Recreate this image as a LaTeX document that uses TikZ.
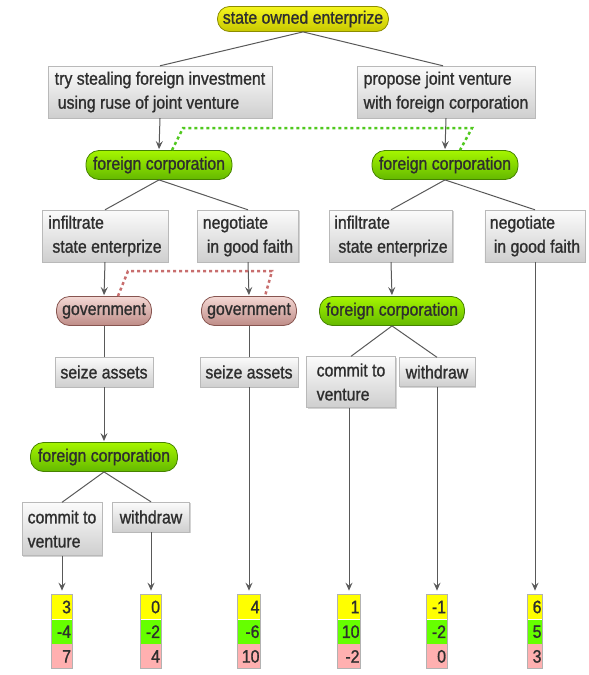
\documentclass[tikz,border=0pt]{standalone}
\usepackage{fontspec}
\setmainfont{Liberation Sans}[FakeStretch=0.88,FakeBold=1.1]
\usepackage{tikz}
\usetikzlibrary{arrows.meta,positioning,shadows,calc}

\definecolor{ytop}{RGB}{245,245,30}
\definecolor{ybot}{RGB}{200,200,0}
\definecolor{yline}{RGB}{140,140,0}
\definecolor{gtop}{RGB}{165,245,0}
\definecolor{gbot}{RGB}{100,185,0}
\definecolor{gline}{RGB}{70,130,0}
\definecolor{rtop}{RGB}{244,216,212}
\definecolor{rbot}{RGB}{190,140,135}
\definecolor{rline}{RGB}{135,85,80}
\definecolor{payyellow}{RGB}{255,255,0}
\definecolor{paygreen}{RGB}{102,255,0}
\definecolor{paypink}{RGB}{255,176,176}
\definecolor{dotgreen}{RGB}{80,200,30}
\definecolor{dotred}{RGB}{200,110,110}

\tikzset{
  txt/.style={font=\fontsize{18}{24}\selectfont, text=black!82},
  box/.style={txt, draw=gray!55, top color=gray!3, bottom color=gray!38,
    inner xsep=5pt, inner ysep=2pt, align=left,
    drop shadow={shadow xshift=1pt,shadow yshift=-1pt,opacity=.35}},
  pill/.style={txt, draw, line width=0.8pt, rounded corners=13pt, minimum height=29pt, inner sep=2pt},
  ypill/.style={pill, draw=yline, top color=ytop, bottom color=ybot},
  gpill/.style={pill, draw=gline, top color=gtop, bottom color=gbot},
  rpill/.style={pill, draw=rline, top color=rtop, bottom color=rbot},
  link/.style={draw=black!65, line width=1pt},
  arr/.style={link, -{Stealth[length=8pt,width=7pt,inset=3pt]}, shorten >=1pt},
  infogreen/.style={draw=dotgreen, line width=2.5pt, dash pattern=on 3pt off 3pt},
  infored/.style={draw=dotred, line width=2.5pt, dash pattern=on 3pt off 3pt},
  cell/.style={txt, inner xsep=1pt, inner ysep=0pt, minimum height=24.3pt, align=right},
  cellframe/.style={draw=gray!60, line width=1pt}
}

\begin{document}
\begin{tikzpicture}[x=1pt,y=-1pt]
\useasboundingbox (0,0) rectangle (589,675);

\node[ypill,minimum width=171pt,minimum height=25pt,rounded corners=12pt] (root) at (303,19) {state owned enterprize};
\node[box,minimum width=224pt,minimum height=52pt] (steal) at (160,92) {try stealing foreign investment\\\hspace*{3pt}using ruse of joint venture};
\node[box,minimum width=178pt,minimum height=52pt] (propose) at (446,92) {propose joint venture\\with foreign corporation};
\node[gpill,minimum width=146pt] (fcA) at (159,165) {foreign corporation};
\node[gpill,minimum width=146pt] (fcB) at (445,165) {foreign corporation};

\node[box,minimum width=126pt,minimum height=52pt] (infA) at (105,236) {infiltrate\\\hspace*{4pt}state enterprize};
\node[box,minimum width=101pt,minimum height=52pt] (negA) at (248,236) {negotiate\\\hspace*{4pt}in good faith};
\node[box,minimum width=123pt,minimum height=52pt] (infB) at (391,236) {infiltrate\\\hspace*{4pt}state enterprize};
\node[box,minimum width=99pt,minimum height=52pt] (negB) at (535,236) {negotiate\\\hspace*{4pt}in good faith};

\node[rpill,minimum width=95pt] (govA) at (104,311) {government};
\node[rpill,minimum width=95pt] (govB) at (249,311) {government};
\node[gpill,minimum width=145pt] (fcD) at (392,311) {foreign corporation};

\node[box,minimum width=98pt,minimum height=30pt] (seizeA) at (104,372) {seize assets};
\node[box,minimum width=98pt,minimum height=30pt] (seizeB) at (249,372) {seize assets};
\node[box,minimum width=89pt,minimum height=51pt] (comB) at (351,382) {commit to\\venture};
\node[box,minimum width=76pt,minimum height=29pt] (witB) at (437,372) {withdraw};

\node[gpill,minimum width=147pt] (fcC) at (104,457) {foreign corporation};
\node[box,minimum width=80pt,minimum height=53pt] (comA) at (62,529) {commit to\\venture};
\node[box,minimum width=77pt,minimum height=30pt] (witA) at (151,517) {withdraw};

\foreach \n/\x/\w/\a/\b/\c in {1/62/18/3/-4/7, 2/151/18/0/-2/4, 3/249/21/4/-6/10,
    4/349/21/1/10/-2, 5/437/18/-1/-2/0, 6/535/13/6/5/3}{
  \node[cell,fill=payyellow,text width=\w pt] (pay\n) at (\x,607) {\a};
  \node[cell,fill=paygreen,text width=\w pt,below=0pt of pay\n] (payb\n) {\b};
  \node[cell,fill=paypink,text width=\w pt,below=0pt of payb\n] (payc\n) {\c};
  \draw[cellframe] (pay\n.north west) rectangle (payc\n.south east);
}

\draw[link] (root.south) -- (steal.north);
\draw[link] (root.south) -- ([xshift=-3pt]propose.north);
\draw[arr] (steal.south) -- (fcA.north);
\draw[arr] (propose.south) -- (fcB.north);
\draw[infogreen] ([xshift=13pt]fcA.north) -- ([xshift=24pt,yshift=22pt]fcA.north)
  -- ([xshift=27pt,yshift=22pt]fcB.north) -- ([xshift=15pt]fcB.north);

\draw[link] (fcA.south) -- (infA.north);
\draw[link] (fcA.south) -- (negA.north);
\draw[link] (fcB.south) -- (infB.north);
\draw[link] (fcB.south) -- (negB.north);

\draw[arr] (infA.south) -- (govA.north);
\draw[arr] (negA.south) -- (govB.north);
\draw[arr] (infB.south) -- (fcD.north);
\draw[infored] ([xshift=14pt]govA.north) -- ([xshift=24pt,yshift=25pt]govA.north)
  -- ([xshift=23pt,yshift=25pt]govB.north) -- ([xshift=16pt]govB.north);

\draw[link] (govA.south) -- (seizeA.north);
\draw[link] (govB.south) -- (seizeB.north);
\draw[link] (fcD.south) -- (comB.north);
\draw[link] (fcD.south) -- (witB.north);

\draw[arr] (seizeA.south) -- (fcC.north);
\draw[link] (fcC.south) -- (comA.north);
\draw[link] (fcC.south) -- (witA.north);

\draw[arr,shorten >=4pt] (comA.south -| pay1) -- (pay1.north);
\draw[arr,shorten >=4pt] (witA.south -| pay2) -- (pay2.north);
\draw[arr,shorten >=4pt] (seizeB.south -| pay3) -- (pay3.north);
\draw[arr,shorten >=4pt] (comB.south -| pay4) -- (pay4.north);
\draw[arr,shorten >=4pt] (witB.south -| pay5) -- (pay5.north);
\draw[arr,shorten >=4pt] (negB.south -| pay6) -- (pay6.north);
\end{tikzpicture}
\end{document}
